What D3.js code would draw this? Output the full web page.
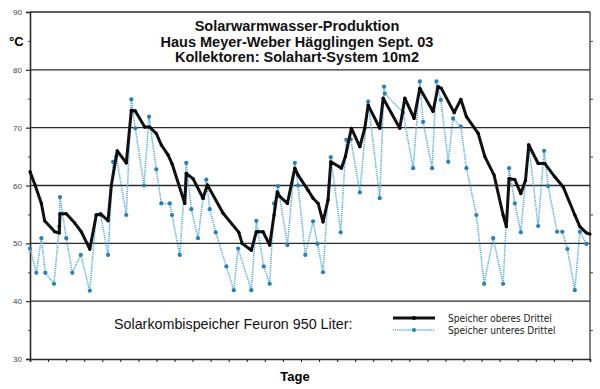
<!DOCTYPE html>
<html><head><meta charset="utf-8">
<script src="https://cdn.jsdelivr.net/npm/d3@7"></script>
<style>
html,body{margin:0;padding:0;background:#fff;}
svg{display:block;font-family:"Liberation Sans",Arial,sans-serif;}
</style></head>
<body>
<svg id="chart" width="600" height="389"></svg>
<script>
const titleLines = ["Solarwarmwasser-Produktion", "Haus Meyer-Weber Hägglingen Sept. 03", "Kollektoren: Solahart-System 10m2"];
const yTicks = [30, 40, 50, 60, 70, 80, 90];
const yMinor = [35, 45, 55, 65, 75, 85];
const seriesNames = ["Speicher oberes Drittel", "Speicher unteres Drittel"];

// Speicher oberes Drittel (day of month offset, °C)
const upperDay = [0, 0.29, 0.63, 0.81, 1.37, 1.62, 1.66, 2.01, 2.48, 2.84, 3.31, 3.67, 3.91, 4.32, 4.50, 4.83, 5.33, 5.61, 5.83, 6.35, 6.63, 6.99, 7.27, 7.64, 7.86, 8.57, 8.65, 9.02, 9.58, 9.82, 10.69, 11.56, 11.74, 12.25, 12.53, 12.90, 13.27, 13.51, 13.69, 13.83, 14.25, 14.66, 14.84, 15.39, 15.67, 15.95, 16.22, 16.50, 16.65, 17.24, 17.46, 17.79, 18.26, 18.53, 18.72, 19.36, 19.55, 20.47, 20.75, 21.26, 21.58, 22.31, 22.59, 22.77, 23.48, 23.85, 24.16, 24.81, 25.18, 25.69, 26.19, 26.37, 26.52, 26.84, 27.17, 27.43, 27.61, 28.13, 28.50, 29.05, 29.51, 30.16, 30.44, 30.80, 31.0];
const upperTemp = [62.4, 60.0, 56.9, 53.9, 52.0, 51.8, 55.1, 55.1, 53.5, 52.0, 49.0, 54.9, 55.1, 53.9, 60.0, 66.0, 63.9, 73.0, 72.9, 70.1, 70.1, 69.0, 67.0, 65.3, 63.8, 56.9, 62.1, 61.2, 57.8, 60.1, 55.2, 51.9, 50.0, 48.8, 52.0, 52.0, 49.7, 54.9, 58.9, 58.1, 56.9, 63.0, 61.8, 59.2, 57.8, 56.9, 53.7, 57.5, 64.1, 63.0, 65.0, 69.9, 66.7, 69.9, 73.9, 69.9, 75.1, 69.9, 75.1, 71.6, 76.8, 72.8, 77.1, 76.8, 72.6, 74.9, 71.9, 69.0, 65.0, 61.8, 54.9, 52.9, 61.2, 61.0, 58.6, 60.9, 67.0, 63.8, 63.8, 61.5, 59.8, 54.9, 52.9, 51.8, 51.6];

// Speicher unteres Drittel
const lowerDay = [0, 0.35, 0.63, 0.85, 1.33, 1.62, 1.66, 2.01, 2.34, 2.81, 3.31, 3.67, 3.91, 4.32, 4.60, 4.78, 5.33, 5.61, 5.83, 6.31, 6.59, 6.99, 7.27, 7.74, 7.86, 8.29, 8.65, 8.93, 9.30, 9.58, 9.76, 9.95, 10.28, 10.87, 11.28, 11.52, 12.25, 12.53, 12.62, 12.94, 13.27, 13.51, 13.73, 14.25, 14.66, 14.84, 15.24, 15.67, 15.91, 16.22, 16.54, 16.65, 17.20, 17.51, 17.76, 18.26, 18.72, 19.36, 19.60, 19.64, 20.65, 21.21, 21.58, 21.76, 22.26, 22.50, 22.74, 23.15, 23.42, 23.85, 24.16, 24.71, 25.14, 25.64, 26.19, 26.52, 26.84, 27.17, 27.61, 28.13, 28.46, 28.68, 29.18, 29.47, 29.75, 30.16, 30.44, 30.80];
const lowerTemp = [49.1, 44.9, 50.9, 44.9, 43.0, 52.9, 58.0, 50.9, 44.9, 48.0, 41.8, 54.9, 54.9, 48.0, 64.1, 65.0, 54.9, 74.9, 69.9, 60.0, 71.9, 62.8, 56.9, 56.9, 54.9, 48.0, 63.9, 55.9, 50.9, 57.8, 61.0, 55.9, 51.9, 46.0, 41.9, 49.1, 41.9, 53.9, 52.0, 46.0, 43.0, 56.9, 59.9, 49.7, 63.9, 60.0, 48.0, 53.8, 49.9, 45.0, 60.0, 64.9, 51.9, 67.9, 68.0, 58.8, 74.5, 57.8, 77.1, 75.9, 72.6, 63.0, 78.0, 71.0, 63.0, 78.0, 74.8, 64.1, 71.6, 70.2, 63.0, 54.9, 43.0, 50.9, 43.0, 63.0, 56.9, 51.9, 67.0, 53.0, 66.0, 59.9, 52.0, 52.0, 49.0, 41.9, 52.0, 49.9];

const dayTicks = d3.range(0, 32);

const svg = d3.select("#chart");
const x = d3.scaleLinear().domain([0, 31]).range([30, 590]);
const y = d3.scaleLinear().domain([30, 90]).range([359, 12]);

// gridlines
svg.append("g").selectAll("line").data(yTicks.filter(v => v > 30)).join("line")
  .attr("x1", x(0)).attr("x2", x(31)).attr("y1", d => y(d)).attr("y2", d => y(d))
  .attr("stroke", "#2a2a2a").attr("stroke-width", 1.4);

// left axis major
const gl = svg.append("g").attr("transform", `translate(${x(0)},0)`)
  .call(d3.axisLeft(y).tickValues(yTicks).tickSize(4).tickPadding(4));
gl.select(".domain").attr("stroke", "#2a2a2a").attr("stroke-width", 1.6);
gl.selectAll(".tick line").attr("stroke", "#2a2a2a").attr("stroke-width", 1.2);
gl.selectAll("text").attr("font-size", 8).attr("fill", "#444");
// left minor
const glm = svg.append("g").attr("transform", `translate(${x(0)},0)`)
  .call(d3.axisLeft(y).tickValues(yMinor).tickSize(2).tickFormat(""));
glm.select(".domain").remove();
glm.selectAll(".tick line").attr("stroke", "#444");

// right axis
const gr = svg.append("g").attr("transform", `translate(${x(31)},0)`)
  .call(d3.axisRight(y).tickValues(yMinor).tickSize(3).tickFormat(""));
gr.select(".domain").attr("stroke", "#2a2a2a").attr("stroke-width", 1.2).attr("d", `M0,${y(90)}V${y(30)}`);
gr.selectAll(".tick line").attr("stroke", "#444");

// bottom axis
const gb = svg.append("g").attr("transform", `translate(0,${y(30)})`)
  .call(d3.axisBottom(x).tickValues(dayTicks).tickSize(3).tickFormat(""));
gb.select(".domain").attr("stroke", "#2a2a2a").attr("stroke-width", 1.6);
gb.selectAll(".tick line").attr("stroke", "#2a2a2a").attr("stroke-width", 1.1);

// °C
svg.append("text").attr("x", 9).attr("y", 46).attr("font-weight", "bold").attr("font-size", 13).text("°C");

// title
svg.append("g").selectAll("text").data(titleLines).join("text")
  .attr("x", 297).attr("y", (d, i) => 31 + i * 15.5)
  .attr("text-anchor", "middle").attr("font-weight", "bold").attr("font-size", 14.5)
  .attr("fill", "#111").text(d => d);

const upper = upperDay.map((d, i) => [d, upperTemp[i]]);
const lower = lowerDay.map((d, i) => [d, lowerTemp[i]]);
const line = d3.line().x(d => x(d[0])).y(d => y(d[1]));

// lower series
svg.append("path").datum(lower).attr("d", line).attr("fill", "none")
  .attr("stroke", "#55aede").attr("stroke-width", 1.6).attr("stroke-dasharray", "1.2,0.9");
svg.append("g").selectAll("circle").data(lower).join("circle")
  .attr("cx", d => x(d[0])).attr("cy", d => y(d[1])).attr("r", 2.1)
  .attr("fill", "#2a7fb3");

// upper series
svg.append("path").datum(upper).attr("d", line).attr("fill", "none")
  .attr("stroke", "#111").attr("stroke-width", 3).attr("stroke-linejoin", "round");
svg.append("g").selectAll("circle").data(upper).join("circle")
  .attr("cx", d => x(d[0])).attr("cy", d => y(d[1])).attr("r", 1.6)
  .attr("fill", "#000");

// legend
svg.append("text").attr("x", 114).attr("y", 329).attr("font-size", 14.3).attr("fill", "#111")
  .text("Solarkombispeicher Feuron 950 Liter:");
const lg = svg.append("g");
lg.append("line").attr("x1", 393).attr("x2", 435).attr("y1", 318).attr("y2", 318)
  .attr("stroke", "#111").attr("stroke-width", 3);
lg.append("circle").attr("cx", 414).attr("cy", 318).attr("r", 2).attr("fill", "#000");
lg.append("line").attr("x1", 393).attr("x2", 435).attr("y1", 330).attr("y2", 330)
  .attr("stroke", "#55aede").attr("stroke-width", 1.6).attr("stroke-dasharray", "1.2,0.9");
lg.append("circle").attr("cx", 414).attr("cy", 330).attr("r", 2).attr("fill", "#2a7fb3");
lg.selectAll("text").data(seriesNames).join("text")
  .attr("x", 448).attr("y", (d, i) => 322 + i * 11.5).attr("font-size", 10).attr("fill", "#222")
  .attr("font-family", "'DejaVu Sans Condensed', 'Liberation Sans Narrow', sans-serif")
  .text(d => d);

// x label
svg.append("text").attr("x", 295).attr("y", 381).attr("text-anchor", "middle")
  .attr("font-weight", "bold").attr("font-size", 13).text("Tage");
</script>
</body></html>
